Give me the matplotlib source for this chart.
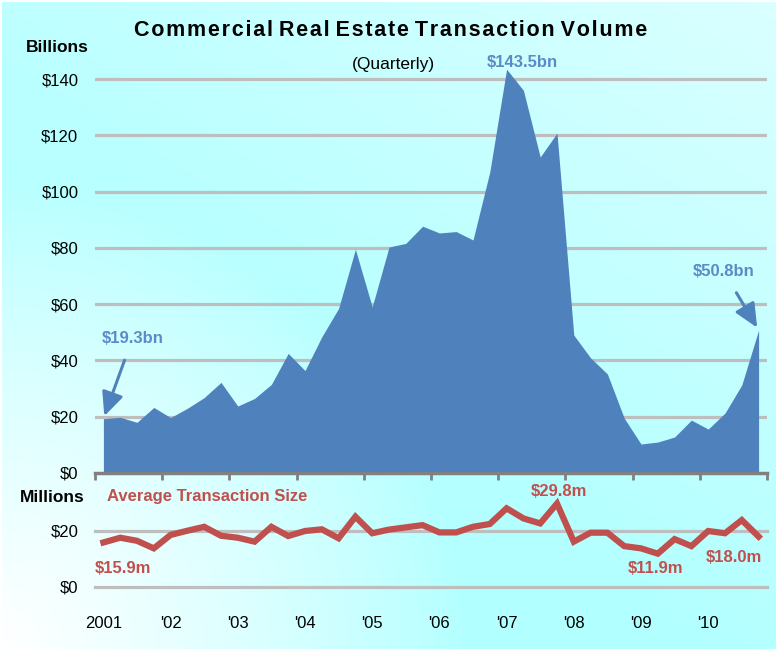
import numpy as np
import matplotlib.pyplot as plt

# quarterly data, 2001 Q1 .. 2010 Q4
quarters = np.arange(40)
year_labels = ["2001", "'02", "'03", "'04", "'05", "'06", "'07", "'08", "'09", "'10"]

volume_bn = [19.3, 19.8, 18.0, 23.3, 19.7, 23.0, 26.8, 32.2, 23.8, 26.5,
             31.5, 42.5, 36.4, 48.4, 58.5, 79.5, 59.0, 80.3, 81.6, 87.7,
             85.3, 85.8, 82.8, 107.0, 143.5, 136.0, 112.3, 120.8, 49.0, 40.9,
             35.2, 19.5, 10.3, 11.0, 12.8, 18.8, 15.6, 21.3, 31.3, 50.8]

avg_size_m = [15.9, 17.6, 16.5, 13.8, 18.6, 20.1, 21.5, 18.3, 17.6, 16.2,
              21.5, 18.2, 20.0, 20.6, 17.4, 25.1, 19.2, 20.5, 21.3, 22.1,
              19.5, 19.5, 21.5, 22.5, 28.1, 24.5, 22.7, 29.8, 16.2, 19.4,
              19.4, 14.6, 13.8, 11.9, 17.1, 14.6, 20.0, 19.2, 23.9, 18.0]

BLUE = "#4F81BD"
BLUE_TXT = "#5B8AC8"
RED = "#C0504D"
GRID = "#BEBEBE"
AXIS = "#808080"

plt.rcParams['font.family'] = ['Liberation Sans', 'DejaVu Sans']

W, H = 776, 649
fig = plt.figure(figsize=(W / 100, H / 100), dpi=100)

# background gradient
bg = fig.add_axes([2 / W, 0, 1 - 2 / W, 1 - 2 / H])
u = np.linspace(0, 1, 300)[None, :]
v = np.linspace(1, 0, 250)[:, None]
white = np.clip(1 - np.sqrt((u / 0.6) ** 2 + (v / 0.75) ** 2), 0, 1) ** 0.8
light = np.clip((u + v - 0.9) / 1.1, 0, 1) * 0.4 + 0.12 * v
k = np.clip(np.maximum(white, light), 0, 1)
r = (178 + (255 - 178) * k) / 255
img = np.dstack([r, np.ones_like(r), np.ones_like(r)])
bg.imshow(img, aspect='auto', extent=[0, 1, 0, 1], interpolation='bilinear')
bg.set_axis_off()


def px_axes(left, right, y0, y1):
    # pixel box -> figure fraction
    return [left / W, 1 - y0 / H, (right - left) / W, (y0 - y1) / H]


# ---- top panel: transaction volume
ax = fig.add_axes(px_axes(95, 767, 473, 473 - 150 * 2.814))
ax.set_facecolor('none')
ax.fill_between(quarters, 0, volume_bn, color=BLUE, lw=0, zorder=3)
ax.set_xlim(-0.5, 39.5)
ax.set_ylim(0, 150)
for val in range(20, 141, 20):
    ax.axhline(val, color=GRID, lw=2.3, zorder=1)
ax.set_yticks(range(0, 141, 20))
ax.set_yticklabels(["$%d" % t for t in range(0, 141, 20)], fontsize=12)
ax.set_xticks(np.arange(-0.5, 40, 4))
ax.set_xticklabels([])
ax.tick_params(axis='y', length=0, pad=12)
ax.tick_params(axis='x', length=5, width=2, color=AXIS)
for s in ['top', 'left', 'right']:
    ax.spines[s].set_visible(False)
ax.spines['bottom'].set_color(AXIS)
ax.spines['bottom'].set_linewidth(2.5)
ax.spines['bottom'].set_zorder(4)

txt = dict(fontsize=12, fontweight='bold', color=BLUE_TXT, ha='center', va='center')
arrow = dict(arrowstyle='-|>,head_width=0.55,head_length=1.2', color=BLUE, lw=2.2,
             shrinkA=9, shrinkB=2)
ax.annotate("$19.3bn", xy=(0, volume_bn[0]), xytext=(21, 58),
            textcoords='offset points', arrowprops=arrow, **txt)
ax.annotate("$143.5bn", xy=(24, volume_bn[24]), xytext=(11, 5),
            textcoords='offset points', **txt)
ax.annotate("$50.8bn", xy=(39, volume_bn[39]), xytext=(-25, 42),
            textcoords='offset points', arrowprops=arrow, **txt)

# ---- bottom panel: average transaction size
ax2 = fig.add_axes(px_axes(95, 767, 587, 587 - 36 * 2.8))
ax2.set_facecolor('none')
ax2.set_xlim(-0.5, 39.5)
ax2.set_ylim(0, 36)
for val in [0, 20]:
    ax2.axhline(val, color=GRID, lw=2.3, zorder=1, clip_on=False)
ax2.plot(quarters, avg_size_m, color=RED, lw=4.5, solid_joinstyle='miter', zorder=3)
ax2.set_yticks([0, 20])
ax2.set_yticklabels(["$0", "$20"], fontsize=12)
ax2.set_xticks(quarters[::4])
ax2.set_xticklabels(year_labels, fontsize=12)
ax2.tick_params(axis='y', length=0, pad=12)
ax2.tick_params(axis='x', length=0, pad=21)
for s in ax2.spines.values():
    s.set_visible(False)

rtxt = dict(fontsize=12, fontweight='bold', color=RED, ha='center', va='center')
ax2.annotate("$15.9m", xy=(0, avg_size_m[0]), xytext=(14, -19), textcoords='offset points', **rtxt)
ax2.annotate("$29.8m", xy=(27, avg_size_m[27]), xytext=(1.5, 9), textcoords='offset points', **rtxt)
ax2.annotate("$11.9m", xy=(33, avg_size_m[33]), xytext=(-2, -11), textcoords='offset points', **rtxt)
ax2.annotate("$18.0m", xy=(39, avg_size_m[39]), xytext=(-18, -15), textcoords='offset points', **rtxt)

# ---- titles and unit labels
title = "Commercial Real Estate Transaction Volume"
spaced = " ".join("\u200a".join(w) for w in title.split(" "))
fig.text(391 / W, 1 - 30 / H, spaced, fontsize=15.5, fontweight='bold', ha='center', va='center')
fig.text(393 / W, 1 - 65 / H, "(Quarterly)", fontsize=12.5, ha='center', va='center')
fig.text(57 / W, 1 - 48 / H, "Billions", fontsize=12.5, fontweight='bold', ha='center', va='center')
fig.text(52 / W, 1 - 497 / H, "Millions", fontsize=12.5, fontweight='bold', ha='center', va='center')
fig.text(107 / W, 1 - 497 / H, "Average Transaction Size", fontsize=12, fontweight='bold',
         color=RED, ha='left', va='center')

fig.savefig("out.png", dpi=100)
